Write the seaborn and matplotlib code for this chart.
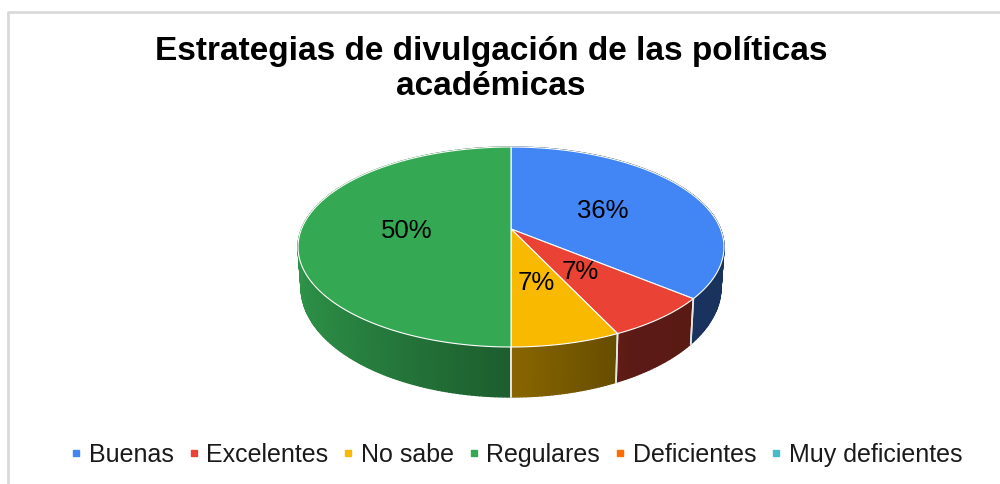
import numpy as np
import matplotlib.pyplot as plt
from matplotlib.lines import Line2D
from matplotlib.colors import to_rgb
import seaborn as sns

# chart values
categories = ["Buenas", "Excelentes", "No sabe", "Regulares", "Deficientes", "Muy deficientes"]
percents = [36, 7, 7, 50, 0, 0]
colors = ["#4285f4", "#ea4335", "#f8b900", "#34a853", "#ff6d01", "#46bdc6"]
title_text = "Estrategias de divulgación de las políticas\nacadémicas"

sns.set_theme(style="white")
plt.rcParams["font.family"] = ["Liberation Sans", "DejaVu Sans"]

fig = plt.figure(figsize=(10, 4.84), dpi=100)
ax = fig.add_axes([0, 0, 1, 1])
ax.set_xlim(0, 1000)
ax.set_ylim(484, 0)
ax.axis("off")


# Project a point of the unit disc to the tilted pie, top face or bottom face
def project(u, v, bottom=False):
    den = 1 + 0.18 * v
    if bottom:
        return 511 + 206.5 * u / den, 267.7 - 106 * v / den
    return 511 + 209.5 * u / den, 229 - 96.76 * v / den


# Wall shading by horizontal position on the disc
def shade(u):
    return np.interp(u, [-1, 0, 0.5, 1], [0.88, 0.55, 0.39, 0.38])


# chart frame
ax.plot([8, 8, 1000], [484, 12, 12], color="#d9d9d9", lw=2, zorder=1)

edges = np.cumsum([0] + percents) / sum(percents) * 2 * np.pi

# side walls first, the top face covers the back half
for i, color in enumerate(colors):
    if percents[i] == 0:
        continue
    angles = np.linspace(edges[i], edges[i + 1], int(percents[i] * 4) + 2)
    base = np.array(to_rgb(color))
    for a0, a1 in zip(angles[:-1], angles[1:]):
        x0, y0 = project(np.sin(a0), np.cos(a0))
        x1, y1 = project(np.sin(a1), np.cos(a1))
        x2, y2 = project(np.sin(a1), np.cos(a1), bottom=True)
        x3, y3 = project(np.sin(a0), np.cos(a0), bottom=True)
        c = base * shade(np.sin((a0 + a1) / 2))
        ax.fill([x0, x1, x2, x3], [y0, y1, y2, y3], color=c, lw=1.0, zorder=2)
    for a in (edges[i], edges[i + 1]):
        if np.cos(a) < 0:
            xa, ya = project(np.sin(a), np.cos(a))
            xb, yb = project(np.sin(a), np.cos(a), bottom=True)
            ax.plot([xa, xb], [ya, yb], color="#e8e8e8", lw=1.2, zorder=3)

# top face
for i, color in enumerate(colors):
    if percents[i] == 0:
        continue
    angles = np.linspace(edges[i], edges[i + 1], 200)
    xs, ys = project(np.sin(angles), np.cos(angles))
    cx, cy = project(0, 0)
    ax.fill(np.r_[cx, xs], np.r_[cy, ys], facecolor=color, edgecolor="white", lw=0.8, zorder=4)
    mid = (edges[i] + edges[i + 1]) / 2
    lx, ly = project(0.5 * np.sin(mid), 0.5 * np.cos(mid))
    ax.text(lx, ly + 2, f"{percents[i]}%", ha="center", va="center", fontsize=18.5, color="black", zorder=5)

ax.text(491, 69, title_text, ha="center", va="center", fontsize=24, fontweight="bold",
        color="black", linespacing=1.18)

handles = [Line2D([], [], ls="none", marker="s", ms=4.5, color=c) for c in colors]
ax.legend(handles, categories, loc="center", bbox_to_anchor=(513 / 1000, 1 - 455 / 484), ncols=6,
          frameon=False, fontsize=18, handletextpad=0.0, columnspacing=0.3, handlelength=1.0,
          labelcolor="#1a1a1a", borderpad=0)

fig.savefig("out.png", dpi=100)
